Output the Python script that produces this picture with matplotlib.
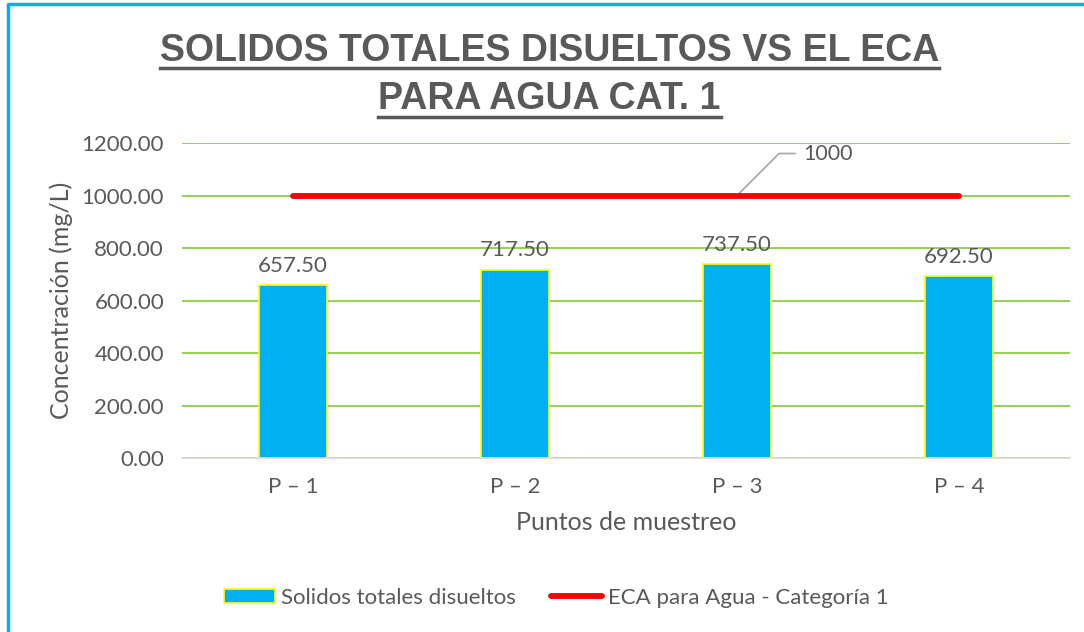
import matplotlib.pyplot as plt
from matplotlib.lines import Line2D
from matplotlib.patches import Patch

categories = ["P – 1", "P – 2", "P – 3", "P – 4"]
solidos = [657.50, 717.50, 737.50, 692.50]
eca = [1000, 1000, 1000, 1000]
yticks = [0, 200, 400, 600, 800, 1000, 1200]

grey = "#595959"
body_font = ["Lato", "DejaVu Sans"]
title_font = ["Liberation Sans Narrow", "Liberation Sans", "DejaVu Sans"]

fig = plt.figure(figsize=(10.84, 6.32), dpi=100)
ax = fig.add_axes([0.168, 0.2753, 0.819, 0.4984])

x = list(range(len(categories)))
ax.bar(x, solidos, width=0.31, color="#00B0F0", edgecolor="#FFFF00", linewidth=1.2, zorder=3)
ax.plot(x, eca, color="#FF0000", linewidth=4.2, solid_capstyle="round", zorder=4)

for xi, v in zip(x, solidos):
    ax.text(xi, v + 36, f"{v:.2f}", ha="center", va="bottom", fontsize=16,
            color=grey, family=body_font)

# leader label for the ECA line
ax.annotate("1000", xy=(2.0, 1000), xytext=(2.3, 1160), fontsize=15.5, color=grey,
            family=body_font, va="center", ha="left",
            arrowprops=dict(arrowstyle="-", color="#A6A6A6", lw=1.2,
                            connectionstyle="angle,angleA=0,angleB=45,rad=0",
                            shrinkA=4, shrinkB=0))

ax.set_xlim(-0.5, 3.5)
ax.set_ylim(0, 1200)
ax.set_yticks(yticks)
ax.set_yticklabels([f"{t:.2f}" for t in yticks])
ax.set_xticks(x)
ax.set_xticklabels(categories)
ax.grid(axis="y", color="#92D050", linewidth=1.4, zorder=0)
ax.set_axisbelow(True)
for s in ["top", "right", "left"]:
    ax.spines[s].set_visible(False)
ax.spines["bottom"].set_color("#D9D9D9")
ax.spines["bottom"].set_linewidth(1.2)
ax.tick_params(length=0, labelsize=16, labelcolor=grey)
ax.tick_params(axis="y", pad=13)
ax.tick_params(axis="x", pad=14)
for lab in ax.get_xticklabels() + ax.get_yticklabels():
    lab.set_family(body_font)

ax.set_ylabel("Concentración (mg/L)", fontsize=18, color=grey, family=body_font, labelpad=6)
ax.set_xlabel("Puntos de muestreo", fontsize=18, color=grey, family=body_font, labelpad=10)

handles = [Patch(facecolor="#00B0F0", edgecolor="#FFFF00", linewidth=1.2),
           Line2D([0], [0], color="#FF0000", linewidth=4.2, solid_capstyle="round")]
leg = fig.legend(handles, ["Solidos totales disueltos", "ECA para Agua - Categoría 1"],
                 loc="center", bbox_to_anchor=(0.513, 0.054), ncol=2, frameon=False,
                 prop={"family": body_font, "size": 16}, columnspacing=1.6,
                 handlelength=2.3, handleheight=0.6, handletextpad=0.25)
for t in leg.get_texts():
    t.set_color(grey)

# title with underline
titles = [("SOLIDOS TOTALES DISUELTOS VS EL ECA", 0.920), ("PARA AGUA CAT. 1", 0.843)]
fig.canvas.draw()
renderer = fig.canvas.get_renderer()
for txt, yy in titles:
    t = fig.text(0.507, yy, txt, ha="center", va="center", fontsize=27,
                 fontweight="bold", color=grey, family=title_font)
    bb = t.get_window_extent(renderer=renderer).transformed(fig.transFigure.inverted())
    fig.add_artist(Line2D([bb.x0, bb.x1], [bb.y0 + 0.001, bb.y0 + 0.001],
                          transform=fig.transFigure, color=grey, linewidth=2.5))

# chart frame (left and top edges)
fig.add_artist(Line2D([0.0075, 0.0075, 1.0], [0.0, 0.9935, 0.9935],
                      transform=fig.transFigure, color="#00B0F0", linewidth=2.5))

fig.savefig("out.png", dpi=100)
